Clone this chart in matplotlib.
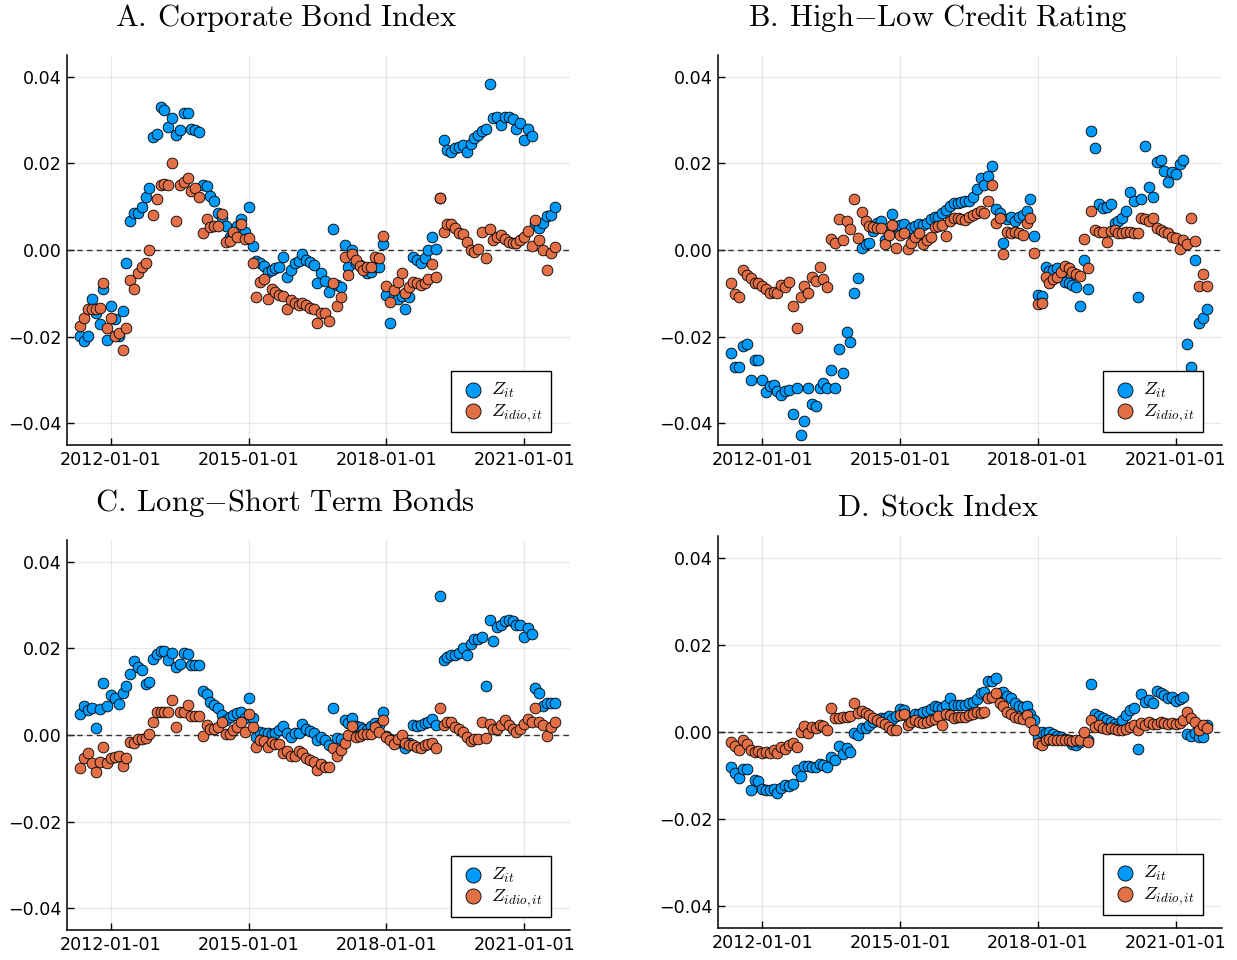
import matplotlib
matplotlib.use("Agg")
import matplotlib.pyplot as plt
import matplotlib.dates as mdates
import matplotlib.ticker as mticker
import pandas as pd
import numpy as np

plt.rcParams['mathtext.fontset'] = 'cm'
plt.rcParams['font.family'] = ['DejaVu Sans']

start_month = "2011-05-01"
tick_dates = ["2012-01-01", "2015-01-01", "2018-01-01", "2021-01-01"]
y_ticks = [-0.04, -0.02, 0.0, 0.02, 0.04]

titles = [r"$\mathrm{A.\:Corporate\ Bond\ Index}$",
          r"$\mathrm{B.\:High{-}Low\ Credit\ Rating}$",
          r"$\mathrm{C.\:Long{-}Short\ Term\ Bonds}$",
          r"$\mathrm{D.\:Stock\ Index}$"]
labels = [r"$Z_{it}$", r"$Z_{idio,it}$"]

# values in units of 1e-3
A_z = [-19.9,-21,-19.9,-11.2,-14.6,-17,-9.1,-20.8,-12.9,-16,
       -19.9,-14.1,-2.9,6.6,8.5,8.5,9.9,12.2,14.3,26,
       26.7,33,32.4,28.4,30.4,26.6,27.7,31.6,31.6,28,
       27.6,27.2,15,14.8,12.5,11.3,8.6,7.3,5.5,3.0,
       3.5,5.5,7.1,4.2,10,0.9,-2.5,-2.9,-3.7,-5,
       -4.6,-4.2,-3.9,-1.5,-6.2,-4.6,-3.1,-2.5,-0.9,-2.2,
       -2.7,-3.5,-7.7,
       -5.2,-7.2,-9.8,4.9,-8.1,-8.6,1.2,-3.9,0,-3.1,
       -3.5,-3.9,-5.2,-5.0,-3.9,-4.0,1.3,-10.4,-16.8,-10.8,
       -11.2,-10.6,-13.5,-10.9,-1.7,-2.3,-2.9,-1.9,0,2.9,
       0.2,12.0,25.4,23.1,22.7,23.5,23.7,24.3,22.6,24.5,
       25.8,26.6,27.4,28.0,38.2,30.4,30.8,28.9,30.8,30.8,
       30.3,27.9,29.3,25.3,27.9,26.4,6.2,5.0,6.2,7.9,
       8.1,10.0]
A_idio = [-17.6,-15.6,-13.7,-13.5,-13.5,-13.3,-7.6,-18,-15.8,-19.9,
          -19.1,-23,-18,-6.9,-9,-5.2,-3.9,-2.9,0,8.1,
          11.8,14.9,15.3,15,20,6.8,15,15.8,16.6,13.6,
          14.3,12.3,4,7.1,5.2,5.5,5.6,8.2,1.9,2.1,
          4.2,2.9,5.9,2.5,2.7,-2.9,-10.8,-7.3,-6.8,-11.2,
          -9.1,-9.6,-10.3,-10.6,-13.5,-11.6,-12.2,-12.6,-12.3,-12.6,
          -13.3,-13.5,-16.8,
          -14.6,-14.6,-16.4,-7.6,-12.9,-10.9,-1.5,-5.8,-0.9,-2.3,
          -3.7,-4.6,-3.9,-3.9,-1.5,-1.9,3.2,-8.3,-12.1,-9.2,
          -7.3,-5.4,-10,-8.5,-7.3,-7.7,-8.1,-7.7,-6.8,-3.3,
          -6.2,12.1,4.2,6,6,5,4,3.6,1.9,0,
          -0.4,0.2,4.2,-1.8,4.8,2.3,2.9,3.5,2.5,1.9,
          1.7,1.7,2.3,3.1,4.4,0.9,6.9,2.3,0,-4.6,
          -0.6,0.8]

B_z = [-23.7,-27.1,-27.1,-22.2,-21.6,-29.9,-25.4,-25.4,-30.1,-32.8,
       -31.4,-31.2,-32.5,-33.5,-32.5,-32.4,-37.8,-31.8,-42.7,-39.5,
       -31.8,-35.6,-36,-31.8,-30.8,-31.8,-27.7,-31.8,-22.9,-28.3,
       -19.0,-21.2,-10.0,-6.4,0.4,1.5,1.7,4.5,6.2,6.8,
       2.3,3.9,8.2,5.5,5.8,6.0,4.2,5.0,5.5,5.9,
       5.8,6.2,7.2,7.7,7.7,8.5,9.2,10.2,10.8,10.8,
       11.0,11.2,
       11.2,12.3,14.0,16.6,15.0,17.1,19.5,9.4,8.6,1.7,
       7.1,7.7,6.6,7.7,8.0,9.0,11.8,3.3,-10.4,-10.6,
       -4.0,-4.8,-4.6,-4.2,-5.8,-7.3,-7.7,-8.0,-8.5,-12.9,
       -2.2,-8.9,27.4,23.5,10.6,9.6,10.0,10.6,6.3,6.6,
       7.3,9.0,13.5,11.2,-10.9,11.7,23.9,14.6,12.2,20.2,
       20.8,18.3,15.6,17.9,17.6,19.9,20.7,-21.8,-27.0,-2.2,
       -16.8,-15.8,-13.7]
B_idio = [-7.7,-10.2,-10.9,-4.6,-5.8,-6.4,-7.7,-7.7,-8.3,-9.0,
          -10.0,-9.6,-9.9,-8.1,-8.6,-7.3,-12.9,-18.1,-10.9,-8.3,
          -10.0,-6.2,-7.2,-3.9,-6.8,-8.6,2.5,1.7,7.2,2.3,
          6.8,4.8,11.8,2.7,8.7,6.7,5.5,5.4,5.0,5.0,
          1.5,3.5,5.8,0.4,3.5,4.0,0.2,1.7,3.0,4.0,
          1.5,2.3,2.9,5.4,5.5,5.8,3.2,6.6,7.3,7.3,
          7.1,6.9,
          7.7,8.1,8.5,8.9,8.6,11.2,15.0,6.3,7.3,-0.9,
          4.2,3.9,4.2,4.0,3.5,6.2,7.3,-0.8,-12.5,-12.3,
          -6.2,-7.7,-6.8,-6.3,-5.0,-3.7,-4.2,-5.0,-5.5,-6.0,
          2.5,-4.2,9.0,4.6,4.2,4.2,1.9,4.4,4.6,3.9,
          4.0,4.2,4.2,3.9,3.9,7.3,7.1,6.7,7.3,5.0,
          4.6,4.2,3.9,2.9,2.7,0.2,2.3,1.5,7.3,2.1,
          -8.3,-5.6,-8.3]

C_z = [4.9,6.6,5.8,6.2,1.7,5.9,11.9,6.7,9.2,8.5,
       7.1,9.6,11.2,14.1,17.0,15.6,15.0,11.8,12.3,17.6,
       18.7,19.3,19.3,17.2,19.0,15.6,16.4,18.9,18.7,16.2,
       16.2,16.2,10.2,9.5,7.7,6.9,6.2,4.6,3.5,4.2,
       4.6,5.0,5.4,3.9,8.5,3.9,-0.4,0.8,0.4,0.5,
       0.2,0.5,1.2,2.1,0.4,-0.4,0.5,0.4,2.5,1.5,
       1.0,0.5,-1.2,
       -0.4,-1.2,-2.3,6.3,-0.8,-0.9,3.5,2.7,3.9,2.1,
       1.8,1.5,1.2,2.1,2.7,2.3,5.2,-0.2,-1.0,-1.2,
       -1.2,-1.9,-3.1,-1.9,2.3,2.1,2.3,2.7,3.1,3.6,
       2.3,32.0,17.3,18.1,18.5,18.5,18.9,20.0,18.5,21.0,
       22.1,22.1,22.6,11.3,26.6,21.8,25.0,25.4,26.4,26.6,
       26.4,25.4,25.4,22.6,24.7,23.4,10.8,9.8,6.6,7.5,
       7.5,7.5]
C_idio = [-7.6,-5.4,-4.2,-6.4,-8.5,-6.2,-2.7,-6.4,-5.2,-5.0,
          -4.8,-7.1,-5.4,-1.5,-1.8,-0.9,-0.9,-0.8,0.2,3.1,
          5.4,5.4,5.4,5.4,8.0,1.9,5.4,5.4,6.9,4.4,
          4.4,4.4,-0.2,2.3,1.3,1.5,1.8,3.1,0.2,0.2,
          1.2,1.9,3.1,0.8,4.8,1.8,-2.7,-1.2,-1.3,-2.7,
          -1.7,-2.1,-2.1,-4.2,-3.6,-4.8,-4.8,-3.7,-4.1,-5.4,
          -5.8,-6.2,-8.0,
          -6.6,-7.3,-7.3,-2.9,-4.9,-3.5,-1.9,0,2.1,-0.4,
          -0.2,0.2,0.2,0.2,1.9,0.8,3.5,-0.4,-1.2,-2.1,
          -1.0,0,-1.9,-2.3,-2.3,-2.7,-2.9,-2.3,-2.1,-1.8,
          -2.9,6.2,2.3,2.9,2.9,1.9,1.3,0.8,-0.4,-1.3,
          -1.0,-1.0,2.9,-0.8,2.5,1.3,1.3,2.3,3.5,2.3,
          1.5,0.8,1.3,2.5,3.6,2.9,6.2,3.1,2.3,-0.2,
          1.9,2.9]

D_z = [-8.1,-9.4,-10.6,-8.5,-8.5,-13.3,-11.0,-11.3,-13.1,-13.3,
       -13.3,-13.1,-14.1,-12.9,-12.2,-12.3,-11.9,-8.8,-10.0,-7.9,
       -7.7,-8.1,-8.1,-7.3,-7.5,-8.1,-5.7,-6.4,-3.3,-5.0,
       -3.6,-4.6,-0.2,-0.8,0.9,0.9,1.5,2.3,2.7,3.1,
       3.3,3.6,2.9,3.6,5.2,5.0,3.5,3.3,4.2,4.1,
       4.6,4.9,5.2,6.0,5.8,5.4,6.2,7.7,6.2,6.2,
       6.2,
       6.2,6.6,6.9,7.5,8.9,9.2,11.6,11.8,12.3,9.0,
       9.2,8.2,7.7,6.6,5.9,5.8,5.9,4.2,2.7,-1.2,
       0,-0.2,0,-0.5,-1.0,-1.2,-1.5,-1.8,-2.7,-2.9,
       -2.3,-1.8,-1.9,11.0,4.2,3.6,3.1,2.7,2.3,1.9,
       1.3,2.7,3.9,5.0,5.4,-3.9,8.7,6.9,7.3,6.6,
       9.5,9.0,8.5,7.7,8.1,7.2,7.5,8.1,-0.4,-1.0,
       -0.2,-1.2,-1.2,1.5]
D_idio = [-2.2,-3.1,-4.2,-1.9,-2.8,-4.2,-4.6,-4.4,-4.8,-4.6,
          -4.8,-4.2,-4.8,-3.5,-3.9,-2.9,-2.5,-3.5,0,1.3,
          -0.2,1.2,1.0,1.5,1.3,0.4,5.4,3.1,3.3,3.5,
          3.5,3.6,6.7,4.4,4.8,4.4,3.9,3.1,2.7,2.3,
          1.8,1.2,0.5,0.5,4.0,4.2,1.5,2.3,2.7,2.3,
          2.1,2.3,2.7,2.9,3.6,1.5,4.2,3.9,3.3,3.5,
          3.5,
          3.5,3.9,4.2,4.6,4.4,4.6,7.7,8.1,8.9,6.6,
          5.9,4.6,4.2,3.5,3.1,2.9,3.9,2.3,0.5,-2.5,
          -2.9,-1.8,-1.5,-1.9,-1.9,-1.8,-1.8,-1.9,-2.1,-1.8,
          -1.9,0,-2.3,2.7,1.2,1.5,1.0,0.8,1.0,0.8,
          0.4,0.5,0.8,1.2,1.5,0.4,2.1,1.5,2.3,1.9,
          1.9,2.3,2.1,1.8,2.1,1.9,2.1,2.7,4.6,3.1,
          2.3,0.4,1.5,1.0]

panels = [(A_z, A_idio), (B_z, B_idio), (C_z, C_idio), (D_z, D_idio)]

blue = "#009AFA"
red = "#E26F46"

W, H = 1237, 960
fig = plt.figure(figsize=(W / 100, H / 100), dpi=100)

# axes boxes in pixels: left, right, top, bottom
boxes = [(67, 570, 55, 445), (718, 1222, 55, 445),
         (67, 570, 540, 930), (718, 1222, 536, 928)]
title_pos = [(286, 18), (938, 18), (285, 503), (938, 507)]


def fmt_y(v, pos):
    s = f"{v:.2f}"
    if s == "-0.00":
        s = "0.00"
    return s.replace("-", "\u2212")


for i, ((z, zi), (l, r, t, b)) in enumerate(zip(panels, boxes)):
    ax = fig.add_axes([l / W, 1 - b / H, (r - l) / W, (b - t) / H])
    dz = pd.date_range(start_month, periods=len(z), freq="MS")
    di = pd.date_range(start_month, periods=len(zi), freq="MS")
    ax.axhline(0, color="#333333", lw=1.0, ls=(0, (4, 3)), zorder=2)
    ax.scatter(dz, np.array(z) / 1000, s=60, c=blue, edgecolors="black",
               linewidths=0.6, zorder=3, label=labels[0])
    ax.scatter(di, np.array(zi) / 1000, s=60, c=red, edgecolors="black",
               linewidths=0.6, zorder=4, label=labels[1])
    ax.set_ylim(-0.045, 0.045)
    ax.set_xlim(pd.Timestamp("2011-01-15"), pd.Timestamp("2022-01-01"))
    ax.set_yticks(y_ticks)
    ax.yaxis.set_major_formatter(mticker.FuncFormatter(fmt_y))
    ax.set_xticks([pd.Timestamp(d) for d in tick_dates])
    ax.xaxis.set_major_formatter(mdates.DateFormatter("%Y-%m-%d"))
    ax.grid(True, color="black", alpha=0.09, lw=0.9)
    ax.set_axisbelow(True)
    for s in ["top", "right"]:
        ax.spines[s].set_visible(False)
    for s in ["left", "bottom"]:
        ax.spines[s].set_linewidth(1.1)
    ax.tick_params(direction="in", length=5, width=1.0, labelsize=12.6,
                   pad=4)
    leg = ax.legend(loc="lower right", bbox_to_anchor=(0.963, 0.033),
                    borderaxespad=0, fancybox=False, framealpha=1,
                    edgecolor="black", fontsize=13.5, markerscale=1.4,
                    handletextpad=0.2, labelspacing=0.05,
                    borderpad=0.45, handlelength=1.5)
    leg.get_frame().set_linewidth(1.0)
    fig.text(title_pos[i][0] / W, 1 - title_pos[i][1] / H, titles[i],
             ha="center", va="center", fontsize=22)

fig.savefig("out.png", dpi=100)
